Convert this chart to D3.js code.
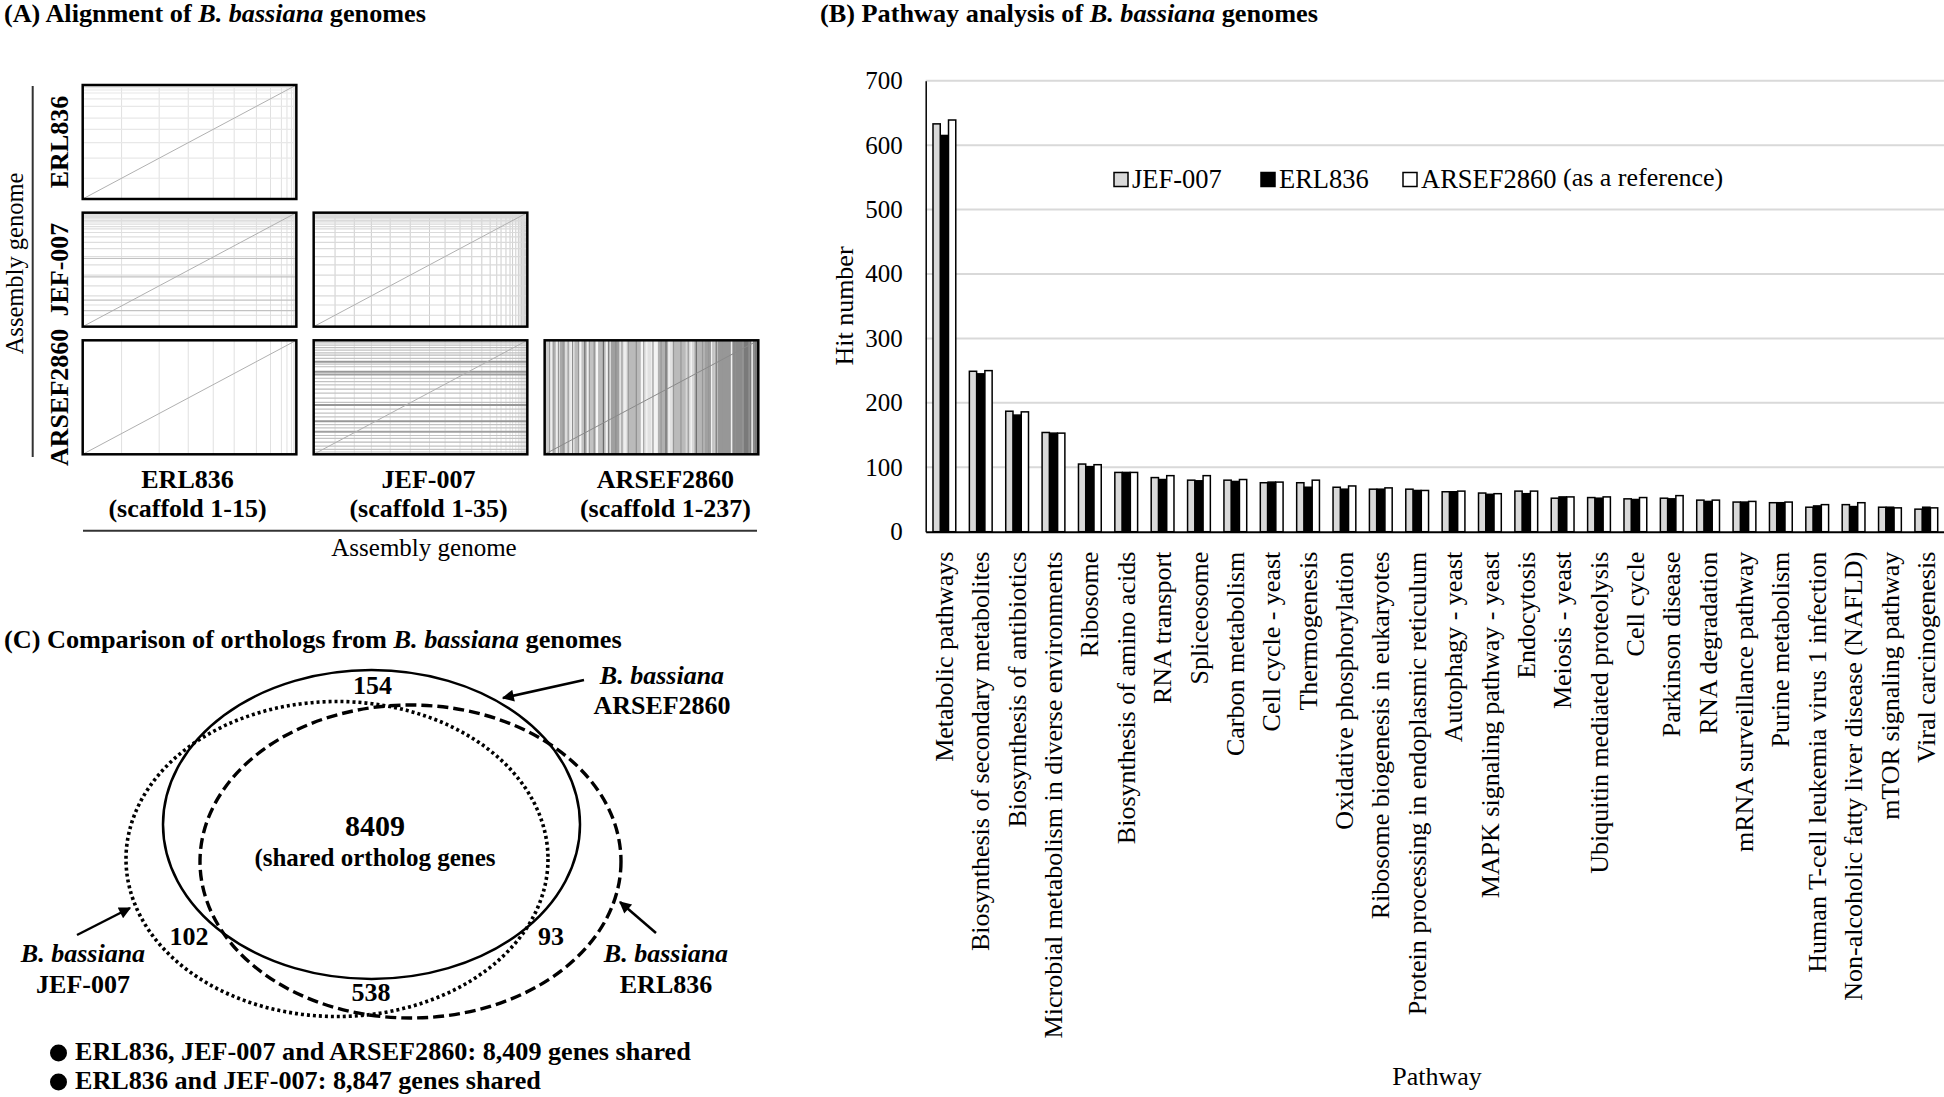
<!DOCTYPE html>
<html><head><meta charset="utf-8">
<script src="https://cdn.jsdelivr.net/npm/d3@7"></script>
<style>
html,body{margin:0;padding:0;background:#fff;}
svg{display:block;font-family:"Liberation Serif","Times New Roman",serif;}
</style></head><body>
<svg id="chart" width="1944" height="1097"></svg>
<script>
// ================= DATA =================
// (B) pathway analysis
const pathways = ["Metabolic pathways","Biosynthesis of secondary metabolites","Biosynthesis of antibiotics",
 "Microbial metabolism in diverse environments","Ribosome","Biosynthesis of amino acids","RNA transport",
 "Spliceosome","Carbon metabolism","Cell cycle - yeast","Thermogenesis","Oxidative phosphorylation",
 "Ribosome biogenesis in eukaryotes","Protein processing in endoplasmic reticulum","Autophagy - yeast",
 "MAPK signaling pathway - yeast","Endocytosis","Meiosis - yeast","Ubiquitin mediated proteolysis","Cell cycle",
 "Parkinson disease","RNA degradation","mRNA surveillance pathway","Purine metabolism",
 "Human T-cell leukemia virus 1 infection","Non-alcoholic fatty liver disease (NAFLD)","mTOR signaling pathway",
 "Viral carcinogenesis"];
const jef007    = [633,249,187,154,105,92,84,80,80,76,76,69,66,66,62,60,63,52,53,51,52,49,46,45,38,42,38,35];
const erl836    = [615,245,181,153,101,92,81,79,78,77,69,66,66,64,62,58,59,54,52,50,51,47,46,45,40,39,38,38];
const arsef2860 = [639,250,186,153,104,92,87,87,81,77,80,71,68,64,63,59,63,54,54,53,56,49,47,46,42,45,37,37];
const seriesNames = ["JEF-007","ERL836","ARSEF2860"];
const seriesFill = ["#d9d9d9","#000000","#ffffff"];
const yTicks = [0,100,200,300,400,500,600,700];

// (A) alignment dot plots (scaffold boundaries as fraction of genome length)
const genomes = ["ERL836","JEF-007","ARSEF2860"];
const scaffoldLabels = ["(scaffold 1-15)","(scaffold 1-35)","(scaffold 1-237)"];
const erlBounds = [0.182,0.358,0.494,0.611,0.709,0.813,0.879,0.930,0.956,0.977,0.988,0.993,0.996,0.998];
const jefBounds = [0.10,0.19,0.27,0.358,0.452,0.542,0.615,0.685,0.74,0.787,0.826,0.857,0.877,0.90,0.919,
  0.931,0.946,0.958,0.966,0.973,0.979,0.984,0.988,0.991,0.993,0.995,0.996,0.997,0.998,0.9985,0.999,0.9993,0.9996,0.9998];
const jefStrongRows = [0.14,0.233,0.437,0.598];
const arsefRows = [[0.977,0.3],[0.957,0.3],[0.936,0.35],[0.913,0.3],[0.89,0.3],[0.87,0.35],[0.841,0.3],[0.812,0.55],
  [0.791,0.3],[0.768,0.35],[0.725,0.55],[0.70,0.5],[0.667,0.35],[0.638,0.3],[0.609,0.3],[0.571,0.35],[0.536,0.3],
  [0.493,0.3],[0.455,0.3],[0.432,0.55],[0.397,0.3],[0.362,0.3],[0.328,0.3],[0.29,0.55],[0.261,0.3],[0.232,0.3],
  [0.197,0.5],[0.165,0.3],[0.139,0.3],[0.107,0.35],[0.072,0.3],[0.043,0.3],[0.02,0.3]];
const arsefBands = [[0,0.02,0.25],[0.02,0.035,0.05],[0.035,0.06,0.3],[0.06,0.07,0.0],[0.07,0.095,0.45],[0.095,0.14,0.15],
  [0.14,0.16,0.35],[0.16,0.172,0.0],[0.172,0.24,0.3],[0.24,0.25,0.0],[0.25,0.29,0.35],[0.29,0.31,0.12],[0.31,0.35,0.5],
  [0.35,0.39,0.12],[0.39,0.45,0.35],[0.45,0.47,0.0],[0.47,0.5,0.12],[0.5,0.53,0.02],[0.53,0.58,0.4],[0.58,0.6,0.12],
  [0.6,0.66,0.35],[0.66,0.7,0.18],[0.7,0.75,0.38],[0.75,0.79,0.5],[0.79,0.81,0.25],[0.81,0.87,0.55],[0.87,0.93,0.62],[0.93,1.0,0.72]];

// (C) ortholog Venn counts
const vennNames = ["ARSEF2860","JEF-007","ERL836"];
const vennCounts = {arsefOnly:"154", jefArsef:"102", erlArsef:"93", erlJef:"538", all:"8409"};
const bulletLines = ["ERL836, JEF-007 and ARSEF2860: 8,409 genes shared","ERL836 and JEF-007: 8,847 genes shared"];

// ================= DRAWING =================
const svg = d3.select("#chart");
const defs = svg.append("defs");
defs.append("marker").attr("id","arrow").attr("viewBox","0 0 10 10").attr("refX",9).attr("refY",5)
  .attr("markerWidth",15).attr("markerHeight",12).attr("markerUnits","userSpaceOnUse").attr("orient","auto")
  .append("path").attr("d","M0,0L10,5L0,10z").attr("fill","#000");

function fitText(t, x, width){
  if(!width) return;
  const w = t.node().getComputedTextLength();
  t.attr("transform", `translate(${x},0) scale(${width/w},1) translate(${-x},0)`);
}
function title(x, y, parts, width){
  const t = svg.append("text").attr("x",x).attr("y",y).attr("font-weight","bold").attr("font-size",25);
  parts.forEach(p => t.append("tspan").attr("font-style",p[1]?"italic":null).text(p[0]));
  fitText(t, x, width);
  return t;
}

// ---------- Panel A ----------
title(4, 22, [["(A) Alignment of ",0],["B. bassiana",1],[" genomes",0]], 422);
const colScale = d3.scaleBand().domain(genomes).range([82.7,758.3]).paddingInner(0.075);
const rowScale = d3.scaleBand().domain(genomes).range([85,454.3]).paddingInner(0.107);
const gA = svg.append("g");
const shade = d3.interpolateRgb("#f6f6f6","#4a4a4a");

genomes.forEach((rg, ri) => {
  genomes.forEach((cg, ci) => {
    if (ci > ri) return;
    const x0 = colScale(cg), y0 = rowScale(rg), w = colScale.bandwidth(), h = rowScale.bandwidth();
    const fx = d3.scaleLinear().domain([0,1]).range([x0, x0+w]);
    const fy = d3.scaleLinear().domain([0,1]).range([y0+h, y0]);
    const g = gA.append("g");
    g.append("rect").attr("x",x0).attr("y",y0).attr("width",w).attr("height",h).attr("fill","#fff");
    // vertical structure (column genome)
    if (cg === "ARSEF2860") {
      g.selectAll("rect.band").data(arsefBands).join("rect").attr("class","band")
        .attr("x",d=>fx(d[0])).attr("width",d=>fx(d[1])-fx(d[0])+0.3)
        .attr("y",y0).attr("height",h).attr("fill",d=>shade(d[2]));
      g.selectAll("line.av").data(arsefRows).join("line").attr("class","av")
        .attr("x1",d=>fx(1-d[0])).attr("x2",d=>fx(1-d[0])).attr("y1",y0).attr("y2",y0+h)
        .attr("stroke",d=>shade(d[1]+0.25)).attr("stroke-width",1.2);
      g.selectAll("line.aw").data(arsefRows.filter((d,i)=>i%3===1)).join("line").attr("class","aw")
        .attr("x1",d=>fx(1-d[0])+3).attr("x2",d=>fx(1-d[0])+3).attr("y1",y0).attr("y2",y0+h)
        .attr("stroke","#f2f2f2").attr("stroke-width",1.5);
    } else {
      const vb = cg === "ERL836" ? erlBounds : jefBounds;
      g.selectAll("line.v").data(vb).join("line").attr("class","v")
        .attr("x1",d=>fx(d)).attr("x2",d=>fx(d)).attr("y1",y0).attr("y2",y0+h)
        .attr("stroke", cg==="JEF-007" && rg==="JEF-007" ? "#cdcdcd" : "#e0e0e0").attr("stroke-width",1);
    }
    // horizontal structure (row genome)
    let hb = [];
    if (rg === "ERL836") hb = erlBounds.map(f=>[f,0.08]);
    if (rg === "JEF-007") hb = jefBounds.map(f=>[f, ci===0?0.14:0.16]).concat(ci===0 ? jefStrongRows.map(f=>[f,0.3]) : []);
    if (rg === "ARSEF2860" && cg === "JEF-007") hb = arsefRows;
    g.selectAll("line.h").data(hb).join("line").attr("class","h")
      .attr("x1",x0).attr("x2",x0+w).attr("y1",d=>fy(d[0])).attr("y2",d=>fy(d[0]))
      .attr("stroke",d=>shade(d[1])).attr("stroke-width",d=>d[1]>0.4?2:1.2);
    // diagonal
    g.append("line").attr("x1",fx(0)).attr("y1",fy(0)).attr("x2",fx(1)).attr("y2",fy(1))
      .attr("stroke", cg==="ARSEF2860" ? "#8a8a8a" : "#b0b0b0").attr("stroke-width",1);
    g.append("rect").attr("x",x0).attr("y",y0).attr("width",w).attr("height",h)
      .attr("fill","none").attr("stroke","#000").attr("stroke-width",2.5);
  });
  // row label
  const cy = rowScale(rg) + rowScale.bandwidth()/2;
  gA.append("text").attr("transform",`translate(68,${cy}) rotate(-90)`).attr("text-anchor","middle")
    .attr("font-weight","bold").attr("font-size",26).text(rg);
});
const colLabelShift = [-2, 8, 14];
genomes.forEach((cg, ci) => {
  const cx = colScale(cg) + colScale.bandwidth()/2 + colLabelShift[ci];
  gA.append("text").attr("x",cx).attr("y",488).attr("text-anchor","middle").attr("font-weight","bold").attr("font-size",26).text(cg);
  gA.append("text").attr("x",cx).attr("y",517).attr("text-anchor","middle").attr("font-weight","bold").attr("font-size",26).text(scaffoldLabels[ci]);
});
gA.append("line").attr("x1",32.7).attr("x2",32.7).attr("y1",86).attr("y2",457).attr("stroke","#333").attr("stroke-width",2);
gA.append("line").attr("x1",83).attr("x2",757).attr("y1",530.7).attr("y2",530.7).attr("stroke","#333").attr("stroke-width",2);
gA.append("text").attr("transform","translate(23,263.5) rotate(-90)").attr("text-anchor","middle").attr("font-size",24.5).text("Assembly genome");
gA.append("text").attr("x",424).attr("y",556).attr("text-anchor","middle").attr("font-size",25).text("Assembly genome");

// ---------- Panel B ----------
title(820, 22, [["(B) Pathway analysis of ",0],["B. bassiana",1],[" genomes",0]], 498);
const B = {left:925.7, right:1944, top:80.7, bottom:531.7};
const x0 = d3.scaleBand().domain(pathways).range([B.left,B.right]).paddingInner(0.36).paddingOuter(0.18);
const x1 = d3.scaleBand().domain(seriesNames).range([0,x0.bandwidth()]);
const y = d3.scaleLinear().domain([0,700]).range([B.bottom,B.top]);
const gB = svg.append("g");
gB.selectAll("line.grid").data(yTicks.filter(t=>t>0)).join("line").attr("class","grid")
  .attr("x1",B.left).attr("x2",B.right).attr("y1",d=>y(d)).attr("y2",d=>y(d))
  .attr("stroke","#d9d9d9").attr("stroke-width",2);
const seriesVals = [jef007, erl836, arsef2860];
const groups = gB.selectAll("g.cat").data(pathways).join("g").attr("class","cat")
  .attr("transform",d=>`translate(${x0(d)},0)`);
groups.selectAll("rect").data((d,i)=>seriesNames.map((s,si)=>({s,si,v:seriesVals[si][i]}))).join("rect")
  .attr("x",d=>x1(d.s)+0.75).attr("width",x1.bandwidth()-0.5)
  .attr("y",d=>y(d.v)).attr("height",d=>y(0)-y(d.v))
  .attr("fill",d=>seriesFill[d.si]).attr("stroke","#000").attr("stroke-width",1.5);

const yAxis = gB.append("g").attr("transform",`translate(${B.left},0)`)
  .call(d3.axisLeft(y).tickValues(yTicks).tickSize(0).tickSizeOuter(0).tickPadding(23));
yAxis.select(".domain").attr("stroke","#000").attr("stroke-width",1.5);
yAxis.selectAll("text").attr("font-size",25).attr("font-family","Liberation Serif").attr("fill","#000");
const xAxis = gB.append("g").attr("transform",`translate(0,${B.bottom})`)
  .call(d3.axisBottom(x0).tickSize(0).tickSizeOuter(0));
xAxis.select(".domain").attr("stroke","#000").attr("stroke-width",2);
xAxis.selectAll("text").attr("font-size",26).attr("font-family","Liberation Serif").attr("fill","#000")
  .attr("transform","rotate(-90)").attr("text-anchor","end").attr("x",-20).attr("y",0).attr("dy","0.35em");

gB.append("text").attr("transform","translate(853,306) rotate(-90)").attr("text-anchor","middle").attr("font-size",26).text("Hit number");
gB.append("text").attr("x",1437).attr("y",1085).attr("text-anchor","middle").attr("font-size",26).text("Pathway");

// legend
const legendX = [1114, 1261, 1403];
seriesNames.forEach((s,i)=>{
  gB.append("rect").attr("x",legendX[i]).attr("y",172.5).attr("width",14).attr("height",14)
    .attr("fill",seriesFill[i]).attr("stroke","#000").attr("stroke-width",1.5);
  gB.append("text").attr("x",legendX[i]+18).attr("y",188).attr("font-size",26.5).text(s);
});
gB.append("text").attr("x",1563).attr("y",186).attr("font-size",26).text("(as a reference)");

// ---------- Panel C ----------
title(4, 648, [["(C) Comparison of orthologs from ",0],["B. bassiana",1],[" genomes",0]], 618);
const gC = svg.append("g");
const ellipses = [
  {name:"ARSEF2860", cx:371.5, cy:824.5, rx:208.5, ry:154.5, dash:null, sw:2.5},
  {name:"JEF-007",   cx:337,   cy:859,   rx:211,   ry:157.5, dash:"3 3", sw:3.6},
  {name:"ERL836",    cx:410.5, cy:861.5, rx:210.5, ry:156.5, dash:"11 5", sw:3.4}
];
gC.selectAll("ellipse").data(ellipses).join("ellipse")
  .attr("cx",d=>d.cx).attr("cy",d=>d.cy).attr("rx",d=>d.rx).attr("ry",d=>d.ry)
  .attr("fill","none").attr("stroke","#000").attr("stroke-width",d=>d.sw).attr("stroke-dasharray",d=>d.dash);

function bt(x,y,txt,size,anchor){
  return gC.append("text").attr("x",x).attr("y",y).attr("text-anchor",anchor||"middle")
    .attr("font-weight","bold").attr("font-size",size||26).text(txt);
}
bt(372.5,694,vennCounts.arsefOnly);
bt(375,836,vennCounts.all,30);
bt(375,866,"(shared ortholog genes",25);
bt(189,945,vennCounts.jefArsef);
bt(551,945,vennCounts.erlArsef);
bt(371,1001,vennCounts.erlJef);

const vennLabelPos = [[662,684,714],[83,962,993],[666,962,993]];
vennNames.forEach((n,i)=>{
  const p = vennLabelPos[i];
  bt(p[0],p[1],"B. bassiana",26).attr("font-style","italic");
  bt(p[0],p[2],n,26);
});
const arrows = [[584,680,503,698],[77,935,130,908],[656,933,620,902]];
gC.selectAll("line.arrow").data(arrows).join("line").attr("class","arrow")
  .attr("x1",d=>d[0]).attr("y1",d=>d[1]).attr("x2",d=>d[2]).attr("y2",d=>d[3])
  .attr("stroke","#000").attr("stroke-width",2.5).attr("marker-end","url(#arrow)");

const bulletW = [616, 466];
bulletLines.forEach((s,i)=>{
  const by = 1060 + i*29;
  gC.append("circle").attr("cx",58.5).attr("cy",by-7).attr("r",8.5).attr("fill","#000");
  const t = bt(75,by,s,25,"start");
  fitText(t,75,bulletW[i]);
});
</script>
</body></html>
